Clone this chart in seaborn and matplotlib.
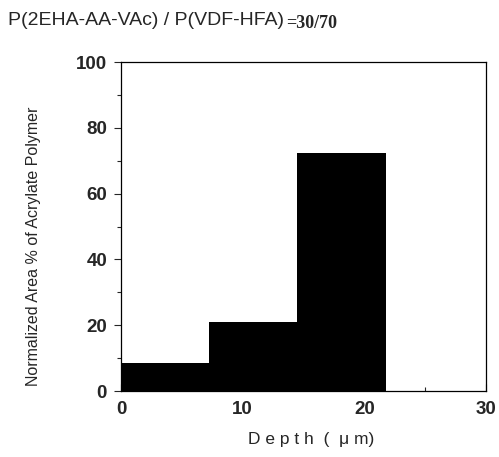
import matplotlib
matplotlib.use('Agg')
import matplotlib.pyplot as plt
import seaborn as sns
import numpy as np
from matplotlib.ticker import MultipleLocator

# depth bins (um) and normalized area % of acrylate polymer
depth_edges = [0.0, 7.25, 14.5, 21.75]
depth_mid = [3.6, 10.9, 18.1]
area_pct = [8.5, 21.0, 72.3]

x_ticks = [0, 10, 20, 30]
y_ticks = [0, 20, 40, 60, 80, 100]

sns.set_theme(style="white")
plt.rcParams['font.family'] = ['Liberation Sans', 'DejaVu Sans']

fig = plt.figure(figsize=(4.99, 4.57), dpi=100)
ax = fig.add_axes([0.2425, 0.1444, 0.7315, 0.7199])

sns.histplot(x=depth_mid, weights=area_pct, bins=depth_edges, ax=ax,
             color='black', alpha=1.0, edgecolor='black', linewidth=0)

ax.set_xlim(0, 30)
ax.set_ylim(0, 100)
ax.set_xticks(x_ticks)
ax.set_yticks(y_ticks)
ax.xaxis.set_minor_locator(MultipleLocator(5))
ax.yaxis.set_minor_locator(MultipleLocator(10))
ax.tick_params(axis='x', which='major', direction='in', length=5, width=0.8,
               labelsize=13.5, pad=7)
ax.tick_params(axis='x', which='minor', direction='in', length=3, width=0.8)
ax.tick_params(axis='y', which='major', direction='out', length=5, width=0.8,
               labelsize=13.5, pad=5)
ax.tick_params(axis='y', which='minor', direction='out', length=3, width=0.8)
ax.tick_params(bottom=True, left=True, which='both')
for lab in ax.get_xticklabels() + ax.get_yticklabels():
    lab.set_fontweight('bold')

for sp in ax.spines.values():
    sp.set_color('black')
    sp.set_linewidth(0.9)

ax.set_xlabel('D e p t h  (  μ m)', fontsize=12.5)
ax.set_ylabel('Normalized Area % of Acrylate Polymer', fontsize=11.5)
ax.yaxis.set_label_coords(-0.22, 0.44)
ax.xaxis.set_label_coords(0.52, -0.125)

fig.text(0.016, 0.955, 'P(2EHA-AA-VAc) / P(VDF-HFA)', fontsize=14,
         ha='left', va='center')
fig.text(0.574, 0.949, '=30/70', fontsize=13, fontweight='bold',
         family=['Liberation Serif', 'DejaVu Serif'], ha='left', va='center')

fig.savefig('out.png', dpi=100)
